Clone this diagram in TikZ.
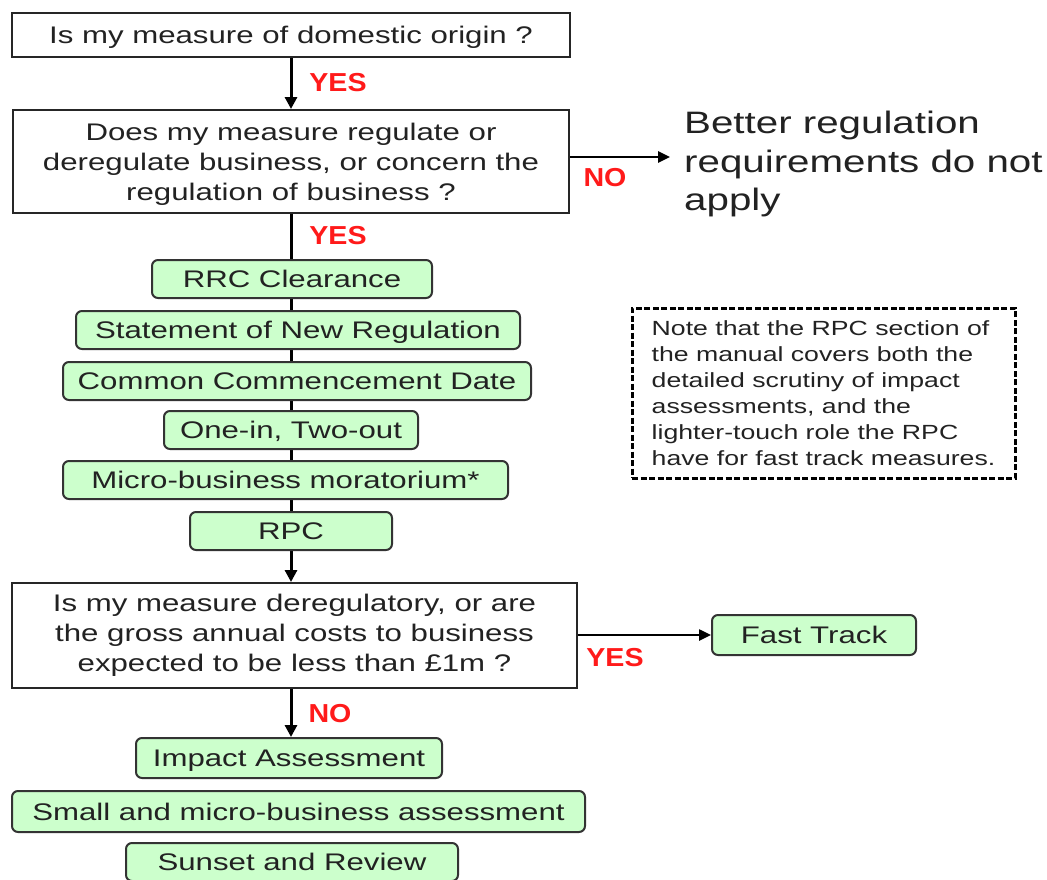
\documentclass[tikz,border=0pt]{standalone}
\usepackage{fontspec}
\setmainfont{Liberation Sans}
\newfontfamily\bodyfam[FakeStretch=1.3]{Liberation Sans}
\newfontfamily\labfam[FakeStretch=1.1]{Liberation Sans Bold}
\usetikzlibrary{arrows.meta,backgrounds}
\definecolor{boxgreen}{HTML}{CCFFCC}
\definecolor{labred}{HTML}{FF1A1A}
\definecolor{txt}{HTML}{222222}
\tikzset{
  qbox/.style={draw=black!85, line width=2pt, fill=white, align=center, inner sep=0pt,
    font=\bodyfam\fontsize{24}{30}\selectfont, text=txt},
  gbox/.style={draw=black!80, line width=2pt, fill=boxgreen, rounded corners=6pt, inner sep=0pt,
    minimum height=38pt, text height=17pt, text depth=0pt,
    font=\bodyfam\fontsize{24}{30}\selectfont, text=txt},
  lab/.style={font=\labfam\fontsize{26}{30}\selectfont, text=labred, inner sep=0pt},
  arr/.style={line width=3pt, -{Triangle[length=12pt,width=12pt]}},
  thinarr/.style={line width=2.5pt, -{Triangle[length=12pt,width=11pt]}},
  notebox/.style={draw=black, line width=3pt, dash pattern=on 6pt off 2.5pt, align=left, inner sep=0pt,
    font=\bodyfam\fontsize{20.5}{26}\selectfont, text=txt},
  bigtext/.style={align=left, inner sep=0pt, font=\bodyfam\fontsize{31}{38.5}\selectfont, text=txt}
}
\begin{document}
\begin{tikzpicture}[x=1pt,y=-1pt]
\useasboundingbox (0,0) rectangle (1047,879);

\node[qbox, minimum width=558pt, minimum height=44pt, text height=17pt, text depth=0pt] (b1) at (291,35) {Is my measure of domestic origin ?};
\node[qbox, minimum width=556pt, minimum height=103pt] (b2) at (291,161.5)
  {\rule{0pt}{23.5pt}Does my measure regulate or\\deregulate business, or concern the\\regulation of business ?};

\node[gbox, minimum width=280pt] (g1) at (292,279) {RRC Clearance};
\node[gbox, minimum width=444pt] (g2) at (298,330) {Statement of New Regulation};
\node[gbox, minimum width=468pt] (g3) at (297,381) {Common Commencement Date};
\node[gbox, minimum width=254pt] (g4) at (291,430) {One-in, Two-out};
\node[gbox, minimum width=445pt] (g5) at (285.5,480) {Micro-business moratorium*};
\node[gbox, minimum width=202pt] (g6) at (291,531) {RPC};

\node[qbox, minimum width=565pt, minimum height=105pt] (b3) at (294.5,635.5)
  {Is my measure deregulatory, or are\\the gross annual costs to business\\expected to be less than £1m ?};
\node[gbox, minimum width=204pt, minimum height=40pt] (ft) at (814,635) {Fast Track};

\node[gbox, minimum width=306pt, minimum height=40pt] (g7) at (289,758) {Impact Assessment};
\node[gbox, minimum width=573pt, minimum height=41pt] (g8) at (298.5,811.5) {Small and micro-business assessment};
\node[gbox, minimum width=332pt] (g9) at (292,862) {Sunset and Review};

\node[bigtext, anchor=west] (better) at (684,164) {Better regulation\\requirements do not\\apply};
\coordinate (noend) at (670,157);

\node[notebox, minimum width=383pt, minimum height=170pt] (note) at (823.5,393)
  {Note that the RPC section of\\the manual covers both the\\detailed scrutiny of impact\\assessments, and the\\lighter-touch role the RPC\\have for fast track measures.};

% connectors
\draw[arr] (b1.south) -- (b2.north);
\begin{scope}[on background layer]
  \draw[arr] (b2.south) -- (b3.north -| b2.south);
\end{scope}
\draw[thinarr] (b2.east |- noend) -- (noend);
\draw[thinarr] (b3.east |- ft.west) -- (ft.west);
\draw[arr] (b3.south -| b2.south) -- (g7.north -| b2.south);

% labels
\node[lab] (yes1) at (338,83) {YES};
\node[lab] (yes2) at (338,236) {YES};
\node[lab] (no1) at (605,178) {NO};
\node[lab] (yes3) at (615,658) {YES};
\node[lab] (no2) at (330,714) {NO};
\end{tikzpicture}
\end{document}
